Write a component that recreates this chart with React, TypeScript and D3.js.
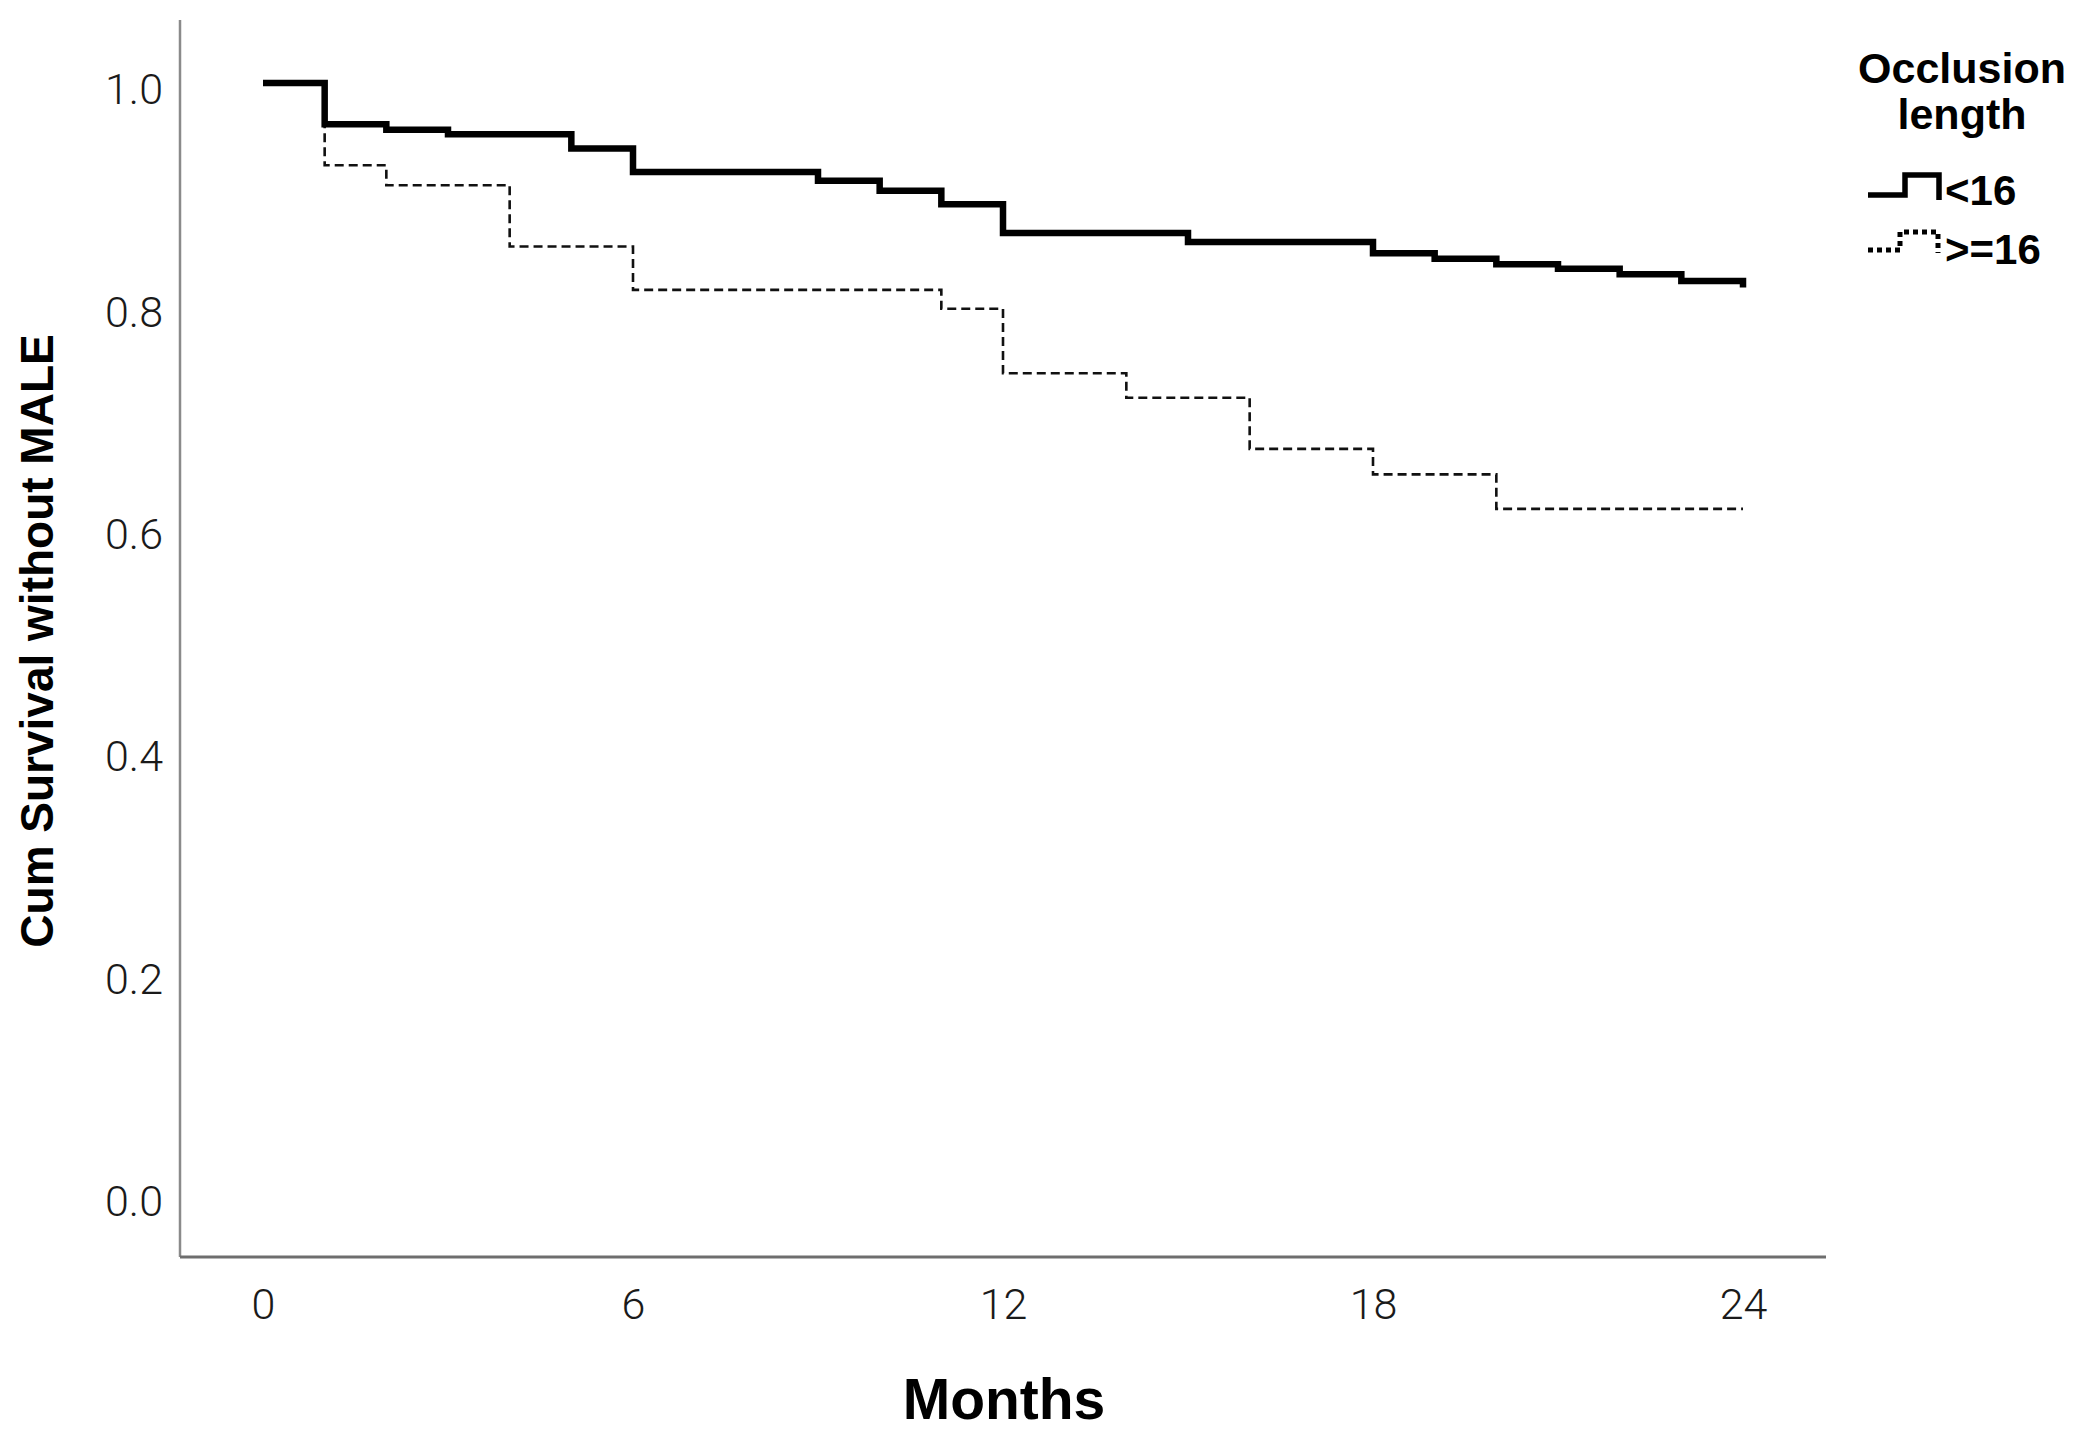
import React, { useEffect, useRef } from "react";
import * as d3 from "d3";

// Kaplan-Meier steps (months, cumulative survival)
const shortTimes = [0, 1, 2, 3, 5, 6, 9, 10, 11, 12, 15, 18, 19, 20, 21, 22, 23, 24];
const shortSurv = [1.0, 0.963, 0.958, 0.954, 0.941, 0.92, 0.912, 0.903, 0.891, 0.865, 0.857, 0.847, 0.842, 0.837, 0.833, 0.828, 0.822, 0.816];

const longTimes = [0, 1, 2, 4, 6, 11, 12, 14, 16, 18, 20, 24];
const longSurv = [1.0, 0.926, 0.908, 0.853, 0.814, 0.797, 0.739, 0.717, 0.671, 0.648, 0.617, 0.617];

const xTicks = [0, 6, 12, 18, 24];
const yTicks = [0, 0.2, 0.4, 0.6, 0.8, 1.0];

const legendTitle = ["Occlusion", "length"];
const legendLabels = ["<16", ">=16"];

const W = 2093;
const H = 1452;

const App: React.FC = () => {
  const svgRef = useRef<SVGSVGElement>(null);

  useEffect(() => {
    if (!svgRef.current) return;
    const svg = d3.select(svgRef.current);
    svg.selectAll("*").remove();

    const x = d3.scaleLinear().domain([0, 24]).range([263, 1743]);
    const y = d3.scaleLinear().domain([0, 1]).range([1195, 83]);

    const axisLeftX = 180;
    const axisBottomY = 1257;

    svg.append("rect").attr("width", W).attr("height", H).attr("fill", "#fff");

    // axis lines
    svg.append("line")
      .attr("x1", axisLeftX).attr("x2", axisLeftX)
      .attr("y1", 20).attr("y2", axisBottomY)
      .attr("stroke", "#8a8a8a").attr("stroke-width", 2.5);
    svg.append("line")
      .attr("x1", axisLeftX).attr("x2", 1826)
      .attr("y1", axisBottomY).attr("y2", axisBottomY)
      .attr("stroke", "#6e6e6e").attr("stroke-width", 3);

    const tickFont = "Roboto, 'Liberation Sans', sans-serif";

    const yAxis = svg.append("g")
      .attr("transform", `translate(${axisLeftX},7)`)
      .call(d3.axisLeft(y).tickValues(yTicks).tickSize(0).tickPadding(17).tickFormat(d3.format(".1f")));
    yAxis.select(".domain").remove();
    yAxis.selectAll("text")
      .style("font-family", tickFont)
      .style("font-weight", 300)
      .style("font-size", "43px")
      .attr("fill", "#1a1a1a");

    const xAxis = svg.append("g")
      .attr("transform", `translate(0,${axisBottomY})`)
      .call(d3.axisBottom(x).tickValues(xTicks).tickSize(0).tickPadding(31).tickFormat(d3.format("d")));
    xAxis.select(".domain").remove();
    xAxis.selectAll("text")
      .style("font-family", tickFont)
      .style("font-weight", 300)
      .style("font-size", "43px")
      .attr("fill", "#1a1a1a");

    const line = d3.line<number>()
      .x(d => x(d))
      .curve(d3.curveStepAfter);

    // >=16 dashed curve
    svg.append("path")
      .attr("d", line.y((d, i) => y(longSurv[i]))(longTimes))
      .attr("fill", "none")
      .attr("stroke", "#111")
      .attr("stroke-width", 2.6)
      .attr("stroke-dasharray", "9 5");

    // <16 solid curve
    svg.append("path")
      .attr("d", line.y((d, i) => y(shortSurv[i]))(shortTimes))
      .attr("fill", "none")
      .attr("stroke", "#000")
      .attr("stroke-width", 6.5);

    // axis titles
    svg.append("text")
      .attr("x", 1004)
      .attr("y", 1419)
      .attr("text-anchor", "middle")
      .style("font-family", "'Liberation Sans', Arial, sans-serif")
      .style("font-weight", "bold")
      .style("font-size", "57px")
      .text("Months");

    svg.append("text")
      .attr("transform", "translate(53,641) rotate(-90)")
      .attr("text-anchor", "middle")
      .style("font-family", "'Liberation Sans', Arial, sans-serif")
      .style("font-weight", "bold")
      .style("font-size", "46px")
      .text("Cum Survival without MALE");

    // legend
    const lg = svg.append("g");
    lg.selectAll("text.title")
      .data(legendTitle)
      .join("text")
      .attr("class", "title")
      .attr("x", 1962)
      .attr("y", (d, i) => 83 + i * 46)
      .attr("text-anchor", "middle")
      .style("font-family", "'Liberation Sans', Arial, sans-serif")
      .style("font-weight", "bold")
      .style("font-size", "43px")
      .text(d => d);

    lg.append("path")
      .attr("d", "M1868,195 H1905 V175 H1939 V200")
      .attr("fill", "none")
      .attr("stroke", "#000")
      .attr("stroke-width", 5.5);
    lg.append("path")
      .attr("d", "M1868,250 H1900 V232 H1938 V253")
      .attr("fill", "none")
      .attr("stroke", "#000")
      .attr("stroke-width", 5)
      .attr("stroke-dasharray", "5 4");

    lg.selectAll("text.item")
      .data(legendLabels)
      .join("text")
      .attr("class", "item")
      .attr("x", 1945)
      .attr("y", (d, i) => 205 + i * 59)
      .style("font-family", "'Liberation Sans', Arial, sans-serif")
      .style("font-weight", "bold")
      .style("font-size", "42px")
      .text(d => d);
  }, []);

  return (
    <svg
      ref={svgRef}
      width={W}
      height={H}
      viewBox={`0 0 ${W} ${H}`}
      style={{ position: "absolute", left: 0, top: 0, display: "block" }}
    />
  );
};

export default App;
